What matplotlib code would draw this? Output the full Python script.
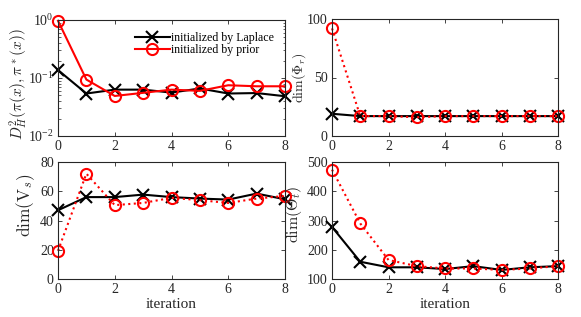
import numpy as np
import matplotlib
matplotlib.use("Agg")
import matplotlib.pyplot as plt

plt.rcParams['font.family'] = ['Liberation Serif', 'DejaVu Serif']
plt.rcParams['mathtext.fontset'] = 'cm'

iters = [0, 1, 2, 3, 4, 5, 6, 7, 8]
hell_laplace = [0.137, 0.054, 0.063, 0.063, 0.056, 0.066, 0.054, 0.055, 0.0485]
hell_prior = [0.97, 0.094, 0.049, 0.0555, 0.063, 0.060, 0.075, 0.072, 0.072]
phi_laplace = [19, 17, 17, 17, 17, 17, 17, 17, 17]
phi_prior = [92, 17, 17, 16, 17, 17, 17, 17, 17]
vs_laplace = [47, 56, 56, 57.7, 56, 55, 54.3, 58.4, 54.5]
vs_prior = [19.3, 72, 50.5, 52, 55.5, 53.9, 52, 55, 56.8]
theta_laplace = [278, 159, 140, 140, 134, 144, 131, 140, 144]
theta_prior = [474, 290, 165, 144, 136, 136, 131, 136, 144]

legend_labels = ['initialized by Laplace', 'initialized by prior']
xticks = [0, 2, 4, 6, 8]

gray = '#262626'
fig = plt.figure(figsize=(5.81, 3.17), dpi=100)
W, H = 581, 317
def pos(l, r, t, b):
    return [l / W, 1 - b / H, (r - l) / W, (b - t) / H]

ax1 = fig.add_axes(pos(58, 285, 20, 136))
ax2 = fig.add_axes(pos(332, 558, 19, 136))
ax3 = fig.add_axes(pos(58, 285, 162, 279))
ax4 = fig.add_axes(pos(332, 558, 162, 279))

mk = dict(markersize=8, markeredgewidth=1.5, linewidth=1.5)
fc = 'none'

ax1.semilogy(iters, hell_laplace, '-x', color='black', label=legend_labels[0], **mk)
ax1.semilogy(iters, hell_prior, '-o', color='red', markerfacecolor=fc, label=legend_labels[1], **mk)
ax1.set_ylim(1e-2, 1e0)
ax1.set_ylabel(r'$D^2_H(\pi(x),\pi^*(x))$', fontsize=11)
leg = ax1.legend(loc='upper right', frameon=False, fontsize=8.6, handlelength=2.9,
                 handletextpad=0.15, borderaxespad=0.2, labelspacing=0.0,
                 bbox_to_anchor=(0.985, 0.96))
for t in leg.get_texts():
    t.set_color('black')

ax2.plot(iters, phi_laplace, '-x', color='black', **mk)
ax2.plot(iters, phi_prior, ':o', color='red', markerfacecolor=fc, **mk)
ax2.set_ylim(0, 100)
ax2.set_yticks([0, 50, 100])
ax2.set_ylabel(r'$\mathrm{dim}(\Phi_r)$', fontsize=10)

ax3.plot(iters, vs_laplace, '-x', color='black', **mk)
ax3.plot(iters, vs_prior, ':o', color='red', markerfacecolor=fc, **mk)
ax3.set_ylim(0, 80)
ax3.set_yticks([0, 20, 40, 60, 80])
ax3.set_ylabel(r'$\mathrm{dim}(\mathrm{V}_s)$', fontsize=12.5)
ax3.set_xlabel('iteration', fontsize=11, labelpad=1.5)

ax4.plot(iters, theta_laplace, '-x', color='black', **mk)
ax4.plot(iters, theta_prior, ':o', color='red', markerfacecolor=fc, **mk)
ax4.set_ylim(100, 500)
ax4.set_yticks([100, 200, 300, 400, 500])
ax4.set_ylabel(r'$\mathrm{dim}(\Theta_t)$', fontsize=11.5)
ax4.set_xlabel('iteration', fontsize=11, labelpad=1.5)

label_pos = {ax1: (-0.123, 0.45), ax2: (-0.106, 0.5), ax3: (-0.0925, 0.63), ax4: (-0.124, 0.55)}

for ax in (ax1, ax2, ax3, ax4):
    ax.set_xlim(0, 8)
    ax.set_xticks(xticks)
    for s in ax.spines.values():
        s.set_color(gray)
        s.set_linewidth(0.8)
    ax.tick_params(direction='in', top=True, right=True, colors=gray,
                   labelsize=10, length=3, width=0.6, pad=3)
    ax.tick_params(which='minor', direction='in', top=True, right=True,
                   colors=gray, length=1.8, width=0.5)
    ax.yaxis.label.set_color(gray)
    ax.xaxis.label.set_color(gray)
    ax.yaxis.set_label_coords(*label_pos[ax])
    for lab in ax.get_xticklabels() + ax.get_yticklabels():
        lab.set_color(gray)
    for ln in ax.get_lines():
        ln.set_clip_on(False)

fig.savefig('out.png', dpi=100)
